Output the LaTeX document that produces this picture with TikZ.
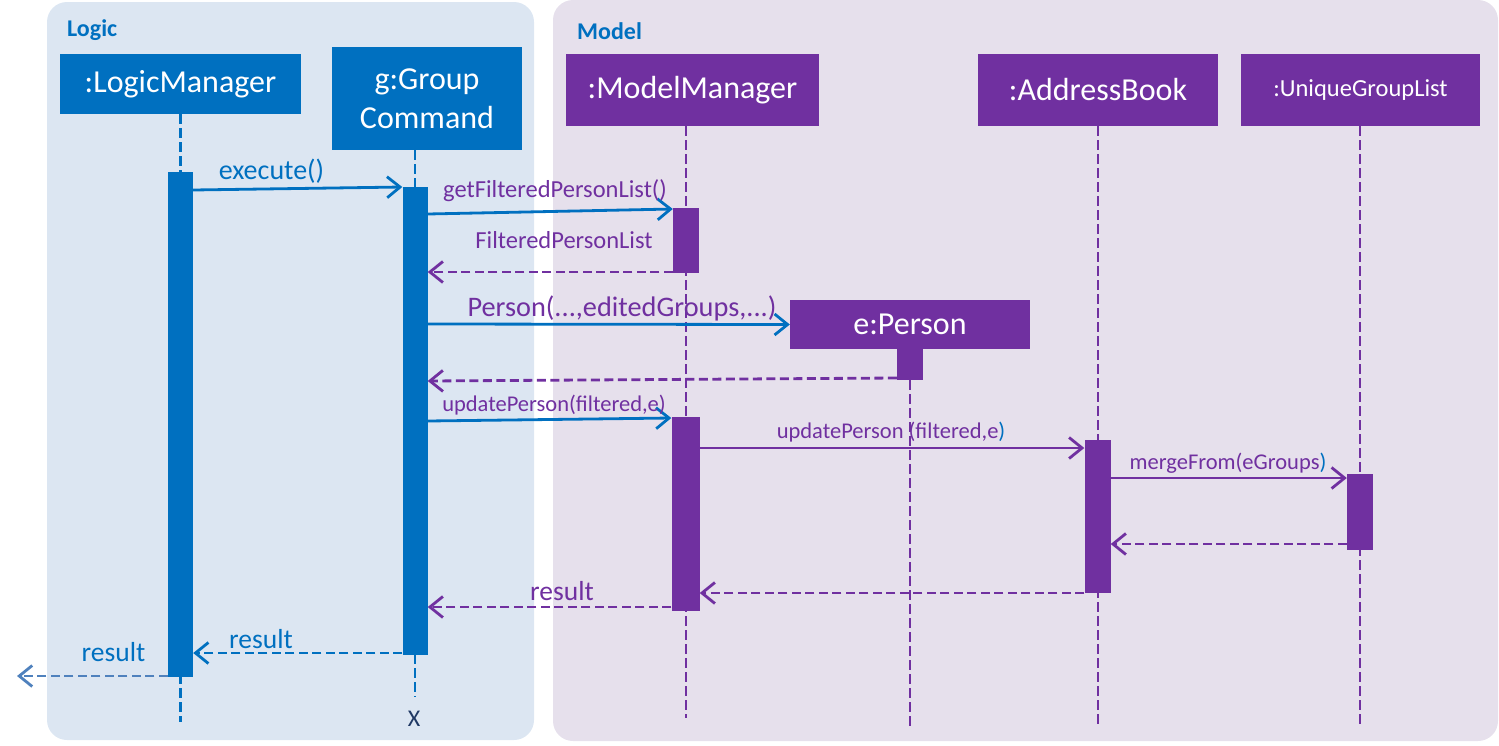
\documentclass[tikz,border=0pt]{standalone}
\usepackage{fontspec}
\setmainfont{Carlito}
\usetikzlibrary{arrows.meta}
\definecolor{cblue}{HTML}{0070C0}
\definecolor{cpurple}{HTML}{7030A0}
\definecolor{logicbg}{HTML}{DCE6F2}
\definecolor{modelbg}{HTML}{E6E0EC}
\definecolor{xnavy}{HTML}{1F3864}
\definecolor{steel}{HTML}{4F81BD}
\newcommand{\setfs}[2]{\fontsize{#1pt}{#2pt}\selectfont}
\tikzset{
  objbox/.style={fill=#1, text=white, inner sep=0pt, align=center, font=\setfs{32}{39}},
  actbar/.style={fill=#1, inner sep=0pt, anchor=north, draw=none},
  lifeline/.style={draw=#1, line width=2.7pt, dash pattern=on 10pt off 4pt},
  msg/.style={draw=#1, line width=2.8pt, -{Straight Barb[length=13pt,width=21pt]}},
  retmsg/.style={msg=#1, dash pattern=on 9pt off 4.5pt},
  lbl/.style={anchor=base, inner sep=0pt, text=#1},
  panel/.style={fill=#1, rounded corners=20pt},
}
\begin{document}
\begin{tikzpicture}[x=1pt,y=-1pt]
\useasboundingbox (0,0) rectangle (1499,745);
% panels
\fill[panel=logicbg] (47,2) rectangle (534,740);
\fill[panel=modelbg] (553,0) rectangle (1498,741);
\node[lbl=cblue, anchor=base west, font=\bfseries\setfs{24}{28}] (logicLbl) at (67,36) {Logic};
\node[lbl=cblue, anchor=base west, font=\bfseries\setfs{24}{28}] (modelLbl) at (577,39) {Model};

% object boxes
\node[objbox=cblue, minimum width=241pt, minimum height=60pt] (lmBox) at (180.5,84) {:LogicManager};
\node[objbox=cblue, minimum width=190pt, minimum height=103pt] (gcBox) at (427,98.5) {g:Group\\Command};
\node[objbox=cpurple, minimum width=253pt, minimum height=72pt] (mmBox) at (692.5,90) {:ModelManager};
\node[objbox=cpurple, minimum width=240pt, minimum height=72pt] (abBox) at (1098,90) {:AddressBook};
\node[objbox=cpurple, minimum width=239pt, minimum height=72pt, font=\setfs{24.5}{29}] (ugBox) at (1360.5,90) {:UniqueGroupList};

% lifeline x positions
\coordinate (lmX) at (180.5,0);
\coordinate (gcX) at (415,0);
\coordinate (mmX) at (686,0);
\coordinate (pX) at (910,0);
\coordinate (abX) at (1098,0);
\coordinate (ugX) at (1360,0);

% lifelines
\draw[lifeline=cblue] (lmX |- lmBox.south) -- (lmX |- 0,722);
\draw[lifeline=cblue] (gcX |- gcBox.south) -- (gcX |- 0,697);
\draw[lifeline=cpurple] (mmX |- mmBox.south) -- (mmX |- 0,718);
\draw[lifeline=cpurple] (abX |- abBox.south) -- (abX |- 0,728);
\draw[lifeline=cpurple] (ugX |- ugBox.south) -- (ugX |- 0,728);
\draw[lifeline=cpurple] (pX |- 0,380) -- (pX |- 0,726);

% e:Person box
\node[objbox=cpurple, minimum width=240pt, minimum height=49pt] (pBox) at (910,324.5) {e:Person};

% activation bars
\node[actbar=cblue, minimum width=25pt, minimum height=505pt] (lmBar) at (180.5,172) {};
\node[actbar=cblue, minimum width=25pt, minimum height=468pt] (gcBar) at (415,187) {};
\node[actbar=cpurple, minimum width=26pt, minimum height=65pt] (mmBar1) at (686,208) {};
\node[actbar=cpurple, minimum width=28pt, minimum height=194pt] (mmBar2) at (685.5,417) {};
\node[actbar=cpurple, minimum width=26pt, minimum height=31pt] (pBar) at (910,349) {};
\node[actbar=cpurple, minimum width=26pt, minimum height=153pt] (abBar) at (1097.5,440) {};
\node[actbar=cpurple, minimum width=26pt, minimum height=76pt] (ugBar) at (1360,474) {};

% messages
\draw[msg=cblue] (lmBar.east |- 0,190) -- (gcBar.west |- 0,187);
\node[lbl=cblue, font=\setfs{28}{32}] (l1) at (271.5,179) {execute()};

\draw[msg=cblue] (gcBar.east |- 0,214) -- (mmBar1.west |- 0,209);
\node[lbl=cpurple, font=\setfs{24.5}{28}] (l2) at (555,197) {getFilteredPersonList()};

\draw[retmsg=cpurple] (mmBar1.west |- 0,272) -- (gcBar.east |- 0,272);
\node[lbl=cpurple, font=\setfs{24.5}{28}] (l3) at (564,248) {FilteredPersonList};

\draw[msg=cblue] (gcBar.east |- 0,324) -- (pBox.west);
\node[lbl=cpurple, font=\setfs{28.3}{32}] (l4) at (622,316) {Person(...,editedGroups,...)};

\draw[retmsg=cpurple] (pBar.west |- 0,378) -- (gcBar.east |- 0,381);

\draw[msg=cblue] (gcBar.east |- 0,421) -- (mmBar2.west |- 0,418);
\node[lbl=cpurple, font=\setfs{22.5}{26}] (l6) at (554,411) {updatePerson(filtered,e)};

\draw[msg=cpurple] (mmBar2.east |- 0,448) -- (abBar.west |- 0,448);
\node[lbl=cpurple, font=\setfs{22.5}{26}] (l7) at (891,438) {updatePerson (filtered,e{\color{cblue})}};

\draw[msg=cpurple] (abBar.east |- 0,478) -- (ugBar.west |- 0,478);
\node[lbl=cpurple, font=\setfs{22.5}{26}] (l8) at (1228,469) {mergeFrom(eGroups{\color{cblue})}};

\draw[retmsg=cpurple] (ugBar.west |- 0,544) -- (abBar.east |- 0,544);
\draw[retmsg=cpurple] (abBar.west |- 0,593) -- (mmBar2.east |- 0,593);

\draw[retmsg=cpurple] (mmBar2.west |- 0,607) -- (gcBar.east |- 0,607);
\node[lbl=cpurple, font=\setfs{27.5}{32}] (l11) at (562,600) {result};

\draw[retmsg=cblue] (gcBar.west |- 0,653) -- (lmBar.east |- 0,653);
\node[lbl=cblue, font=\setfs{27.5}{32}] (l12) at (261,648) {result};

\coordinate (exitPt) at (17,676);
\draw[retmsg=steel] (lmBar.west |- 0,676) -- (exitPt);
\node[lbl=cblue, font=\setfs{27.5}{32}] (l13) at (113.5,661) {result};

\node[lbl=xnavy, font=\setfs{24}{28}] (gcDestroy) at (414,726) {X};
\end{tikzpicture}
\end{document}
